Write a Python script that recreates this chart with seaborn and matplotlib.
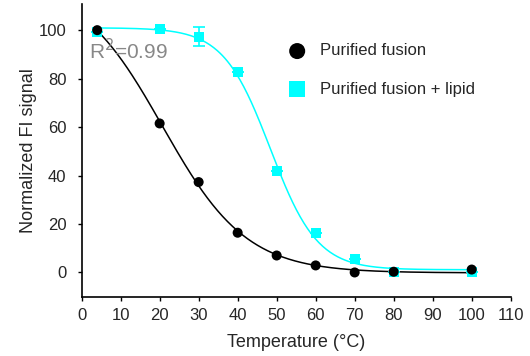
import numpy as np
import pandas as pd
import matplotlib
matplotlib.use("Agg")
import matplotlib.pyplot as plt
import seaborn as sns

# ---- data ----
temperature = [4, 20, 30, 40, 50, 60, 70, 80, 100]
fusion = [100.0, 61.5, 37.3, 16.4, 7.0, 2.9, 0.0, 0.3, 1.2]
fusion_lipid = [99.3, 100.4, 97.2, 82.8, 41.9, 16.2, 5.5, 0.0, 0.0]
fusion_lipid_err = [0, 0, 3.9, 0, 0, 0, 0, 0, 0]
series_names = ["Purified fusion", "Purified fusion + lipid"]
x_ticks = [0, 10, 20, 30, 40, 50, 60, 70, 80, 90, 100, 110]
y_ticks = [0, 20, 40, 60, 80, 100]
r2_text = "R$^2$=0.99"


def boltzmann(x, p):
    top, bottom, x50, k = p
    return bottom + (top - bottom) / (1.0 + np.exp((x - x50) / k))


def fit_boltzmann(x, y, p0):
    x = np.asarray(x, float)
    y = np.asarray(y, float)
    p = np.asarray(p0, float)
    lam = 1e-2
    for _ in range(500):
        r = y - boltzmann(x, p)
        J = np.empty((len(x), 4))
        for i in range(4):
            dp = np.zeros(4)
            dp[i] = 1e-6 * max(1.0, abs(p[i]))
            J[:, i] = (boltzmann(x, p + dp) - boltzmann(x, p)) / dp[i]
        A = J.T @ J
        g = J.T @ r
        step = np.linalg.solve(A + lam * np.diag(np.diag(A) + 1e-9), g)
        pn = p + step
        if np.sum((y - boltzmann(x, pn)) ** 2) < np.sum(r ** 2):
            p = pn
            lam *= 0.5
        else:
            lam *= 4
    return p


p_black = fit_boltzmann(temperature, fusion, [110, 0.5, 24, 9])
p_cyan = fit_boltzmann(temperature, fusion_lipid, [100, 0.5, 48, 5])

xs = np.linspace(min(temperature), max(temperature), 300)
curves = pd.DataFrame({
    "x": np.concatenate([xs, xs]),
    "y": np.concatenate([boltzmann(xs, p_black), boltzmann(xs, p_cyan)]),
    "series": [series_names[0]] * len(xs) + [series_names[1]] * len(xs),
})
points = pd.DataFrame({
    "x": temperature * 2,
    "y": fusion + fusion_lipid,
    "series": [series_names[0]] * len(temperature) + [series_names[1]] * len(temperature),
})

sns.set_style("ticks")
plt.rcParams["font.family"] = ["Liberation Sans", "DejaVu Sans"]

fig = plt.figure(figsize=(5.3, 3.56), dpi=100)
ax = fig.add_axes([0.154, 0.1666, 0.8096, 0.8222])

palette = {series_names[0]: "black", series_names[1]: "#00FFFF"}

sns.lineplot(data=curves, x="x", y="y", hue="series", palette=palette,
             legend=False, ax=ax, linewidth=1.1)

ax.errorbar(temperature, fusion_lipid, yerr=fusion_lipid_err, fmt="none",
            ecolor="#00FFFF", elinewidth=1.2, capsize=4, capthick=1.2, zorder=3)

sns.scatterplot(data=points[points.series == series_names[1]], x="x", y="y",
                color="#00FFFF", marker="s", s=52, edgecolor="none", ax=ax,
                label=series_names[1], zorder=4)
sns.scatterplot(data=points[points.series == series_names[0]], x="x", y="y",
                color="black", marker="o", s=52, edgecolor="none", ax=ax,
                label=series_names[0], zorder=5)

handles, labels = ax.get_legend_handles_labels()
order = [labels.index(series_names[0]), labels.index(series_names[1])]
ax.legend([handles[i] for i in order], [labels[i] for i in order],
          frameon=False, loc="upper left", bbox_to_anchor=(0.448, 0.888),
          fontsize=12, markerscale=1.6, handletextpad=0.35, labelspacing=1.4,
          borderaxespad=0.0)

ax.text(2.0, 88.0, r2_text, fontsize=15, color="#888888", ha="left", va="baseline")

ax.set_xlim(0, 110)
ax.set_ylim(-10, 110.8)
ax.set_xticks(x_ticks)
ax.set_yticks(y_ticks)
ax.tick_params(labelsize=12, length=3, width=1, direction="out", color="black")
ax.tick_params(axis="x", pad=5)
ax.tick_params(axis="y", pad=8)
ax.set_xlabel("Temperature (°C)", fontsize=13, labelpad=8)
ax.set_ylabel("Normalized FI signal", fontsize=13, labelpad=1)
sns.despine(ax=ax)
for s in ["left", "bottom"]:
    ax.spines[s].set_linewidth(1.2)
    ax.spines[s].set_color("black")

fig.savefig("out.png", dpi=100)
